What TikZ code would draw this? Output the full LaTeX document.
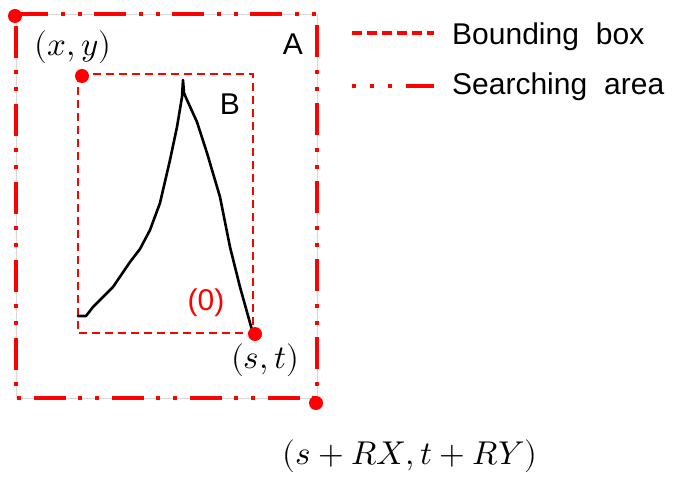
\documentclass[tikz,border=0pt]{standalone}
\usepackage{fontspec}
\usepackage{unicode-math}
\setsansfont{Liberation Sans}
\setmathfont{Latin Modern Math}
\definecolor{pptred}{RGB}{255,0,0}
\begin{document}
\begin{tikzpicture}[x=1pt,y=-1pt,
  searchline/.style={draw=pptred,line width=4pt,dash pattern=on 32pt off 13pt on 4pt off 13pt on 4pt off 12pt},
  bboxline/.style={draw=pptred,line width=2pt,dash pattern=on 8pt off 5pt},
  legbbox/.style={draw=pptred,line width=4pt,dash pattern=on 10pt off 5pt},
  legsearch/.style={draw=pptred,line width=4pt,dash pattern=on 4pt off 14pt on 4pt off 14pt on 4pt off 14pt on 32pt off 0pt},
  reddot/.style={circle,fill=pptred,inner sep=0pt,minimum size=14pt},
  sfl/.style={font=\sffamily\fontsize{30}{36}\selectfont,inner sep=0pt},
  mathl/.style={font=\fontsize{33}{40}\selectfont,inner sep=0pt},
  stroke/.style={draw=black,line width=2.6pt,line join=round,line cap=round}]
\useasboundingbox (0,0) rectangle (679,478);
% outer searching area
\coordinate (A1) at (16,14);
\coordinate (A2) at (317,398);
\draw[gray!30,line width=0.8pt] (A1) rectangle (A2);
\draw[searchline] (A1) -- (317,14) -- (A2) -- (16,398) -- cycle;
% inner bounding box
\coordinate (B1) at (78,74);
\coordinate (B2) at (253,333);
\draw[bboxline] (B1) rectangle (B2);
% stroke
\draw[stroke] (78,316) -- (86,316) -- (93,307) -- (113,287) -- (130,262) -- (140,249) -- (150,230) -- (160,203) -- (170,160) -- (177,127) -- (182,97) -- (183,80) -- (184,93) -- (187,100) -- (197,122) -- (207,153) -- (220,197) -- (230,247) -- (240,287) -- (252,330);
% dots
\node[reddot] (d1) at (15,16) {};
\node[reddot] (d2) at (82,76) {};
\node[reddot] (d3) at (255,334) {};
\node[reddot] (d4) at (316,403) {};
% labels
\node[mathl] (lxy) at (73,47) {$(x,y)$};
\node[sfl,anchor=base] (lA) at (293,55) {A};
\node[sfl,anchor=base] (lB) at (230,115) {B};
\node[sfl,text=pptred,anchor=base] (l0) at (206,310) {(0)};
\node[mathl] (lst) at (265,360) {$(s,t)$};
\node[mathl] (lsr) at (410,456) {$(s+RX,t+RY)$};
% legend
\coordinate (L1a) at (352,33);
\coordinate (L1b) at (434,33);
\coordinate (L2a) at (352,86);
\coordinate (L2b) at (434,86);
\draw[legbbox] (L1a) -- (L1b);
\draw[legsearch] (L2a) -- (L2b);
\node[sfl,anchor=base west] (t1) at (452,45) {Bounding\hspace{17pt}box};
\node[sfl,anchor=base west] (t2) at (452,95) {Searching\hspace{17pt}area};
\end{tikzpicture}
\end{document}
